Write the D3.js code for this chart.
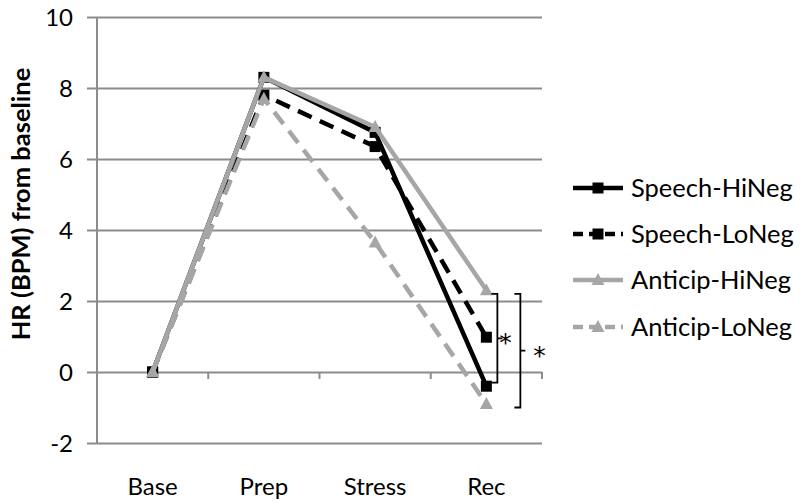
<!DOCTYPE html>
<html>
<head>
<meta charset="utf-8">
<script src="https://cdn.jsdelivr.net/npm/d3@7"></script>
<style>
  body { margin: 0; background: #fff; }
  text { font-family: Lato, "Open Sans", sans-serif; fill: #000; }
</style>
</head>
<body>
<div id="vis"></div>
<script>
// data
const categories = ['Base', 'Prep', 'Stress', 'Rec'];
const speechHiNeg = [0, 8.3, 6.75, -0.4];
const speechLoNeg = [0, 7.8, 6.35, 0.98];
const anticipHiNeg = [0, 8.3, 6.9, 2.3];
const anticipLoNeg = [0, 7.7, 3.65, -0.9];
const yTicks = [-2, 0, 2, 4, 6, 8, 10];
// significance brackets at Rec: [top, bottom] in BPM
const brackets = [[2.2, -0.3], [2.2, -1.0]];

const series = [
  {name: 'Speech-HiNeg', values: speechHiNeg, color: '#000', dash: null, marker: 'square'},
  {name: 'Speech-LoNeg', values: speechLoNeg, color: '#000', dash: '15,9', marker: 'square'},
  {name: 'Anticip-HiNeg', values: anticipHiNeg, color: '#a6a6a6', dash: null, marker: 'triangle'},
  {name: 'Anticip-LoNeg', values: anticipLoNeg, color: '#a6a6a6', dash: '15,9', marker: 'triangle'}
];

const W = 800, H = 503;
const plot = {left: 97, right: 542, top: 17, bottom: 443};

const svg = d3.select('#vis')
    .append('svg')
    .attr('width', W)
    .attr('height', H);

const xScale = d3.scaleBand()
    .domain(categories)
    .range([plot.left, plot.right]);

const yScale = d3.scaleLinear()
    .domain([-2, 10])
    .range([plot.bottom, plot.top]);

const xc = c => xScale(c) + xScale.bandwidth() / 2;

// gridlines + y labels
const yAxis = d3.axisLeft(yScale)
    .tickValues(yTicks)
    .tickSize(-(plot.right - plot.left))
    .tickSizeOuter(0)
    .tickPadding(0)
    .tickFormat(d => String(d));

const gy = svg.append('g')
    .attr('transform', `translate(${plot.left},0)`)
    .call(yAxis);
gy.select('.domain').remove();
gy.selectAll('.tick line')
    .attr('x1', -10)
    .attr('stroke', '#8c8c8c')
    .attr('stroke-width', 2);
gy.selectAll('.tick text')
    .attr('x', -24)
    .attr('dy', '0.36em')
    .style('font-size', '24px')
    .style('font-family', 'Lato, sans-serif');

// vertical axis line
svg.append('line')
    .attr('x1', plot.left).attr('x2', plot.left)
    .attr('y1', plot.top).attr('y2', plot.bottom)
    .attr('stroke', '#8c8c8c')
    .attr('stroke-width', 2);

// category ticks on the zero line
svg.selectAll('.cat-tick')
    .data(categories)
    .join('line')
    .attr('class', 'cat-tick')
    .attr('x1', d => xScale(d) + xScale.bandwidth())
    .attr('x2', d => xScale(d) + xScale.bandwidth())
    .attr('y1', yScale(0))
    .attr('y2', yScale(0) + 7)
    .attr('stroke', '#8c8c8c')
    .attr('stroke-width', 2);

// category labels
svg.selectAll('.cat-label')
    .data(categories)
    .join('text')
    .attr('class', 'cat-label')
    .attr('x', d => xc(d))
    .attr('y', 495)
    .attr('text-anchor', 'middle')
    .style('font-size', '24px')
    .text(d => d);

// y title
svg.append('text')
    .attr('transform', 'rotate(-90)')
    .attr('x', -204)
    .attr('y', 30)
    .attr('text-anchor', 'middle')
    .style('font-size', '25.5px')
    .style('font-weight', 'bold')
    .text('HR (BPM) from baseline');

const line = d3.line()
    .x((d, i) => xc(categories[i]))
    .y(d => yScale(d));

function drawMarker(g, type, color) {
  if (type === 'square') {
    g.append('rect')
        .attr('x', -5.5).attr('y', -5.5)
        .attr('width', 11).attr('height', 11)
        .attr('fill', color);
  } else {
    g.append('path')
        .attr('d', 'M0,-7L6.5,5L-6.5,5Z')
        .attr('fill', color);
  }
}

series.forEach(s => {
  svg.append('path')
      .datum(s.values)
      .attr('d', line)
      .attr('fill', 'none')
      .attr('stroke', s.color)
      .attr('stroke-width', 4.5)
      .attr('stroke-dasharray', s.dash)
      .attr('stroke-linejoin', 'round');
  s.values.forEach((v, i) => {
    const g = svg.append('g')
        .attr('transform', `translate(${xc(categories[i])},${yScale(v)})`);
    drawMarker(g, s.marker, s.color);
  });
});

// brackets
const recX = xc('Rec');
const bracketX = [recX + 11, recX + 34];
const starX = [recX + 19, recX + 53];
brackets.forEach((b, i) => {
  const x = bracketX[i];
  const y0 = yScale(b[0]), y1 = yScale(b[1]), ym = (y0 + y1) / 2;
  svg.append('path')
      .attr('d', `M${x - 6},${y0}H${x}V${y1}H${x - 6}M${x},${ym}H${x + 5}`)
      .attr('fill', 'none')
      .attr('stroke', '#000')
      .attr('stroke-width', 1.8);
  svg.append('text')
      .attr('x', starX[i])
      .attr('y', ym + 13)
      .attr('text-anchor', 'middle')
      .style('font-size', '25px')
      .style('font-family', '"DejaVu Sans", sans-serif')
      .text('*');
});

// legend
const legendY = [188, 234, 280, 327];
const lg = svg.selectAll('.legend')
    .data(series)
    .join('g')
    .attr('class', 'legend')
    .attr('transform', (d, i) => `translate(573,${legendY[i]})`);

lg.append('line')
    .attr('x1', 0).attr('x2', 50)
    .attr('stroke', d => d.color)
    .attr('stroke-width', 4.5)
    .attr('stroke-dasharray', d => d.dash ? '10,6' : null);

lg.each(function(d) {
  const g = d3.select(this).append('g').attr('transform', 'translate(25,0)');
  drawMarker(g, d.marker, d.color);
});

lg.append('text')
    .attr('x', 58)
    .attr('dy', '0.36em')
    .style('font-size', '25.5px')
    .text(d => d.name);
</script>
</body>
</html>
